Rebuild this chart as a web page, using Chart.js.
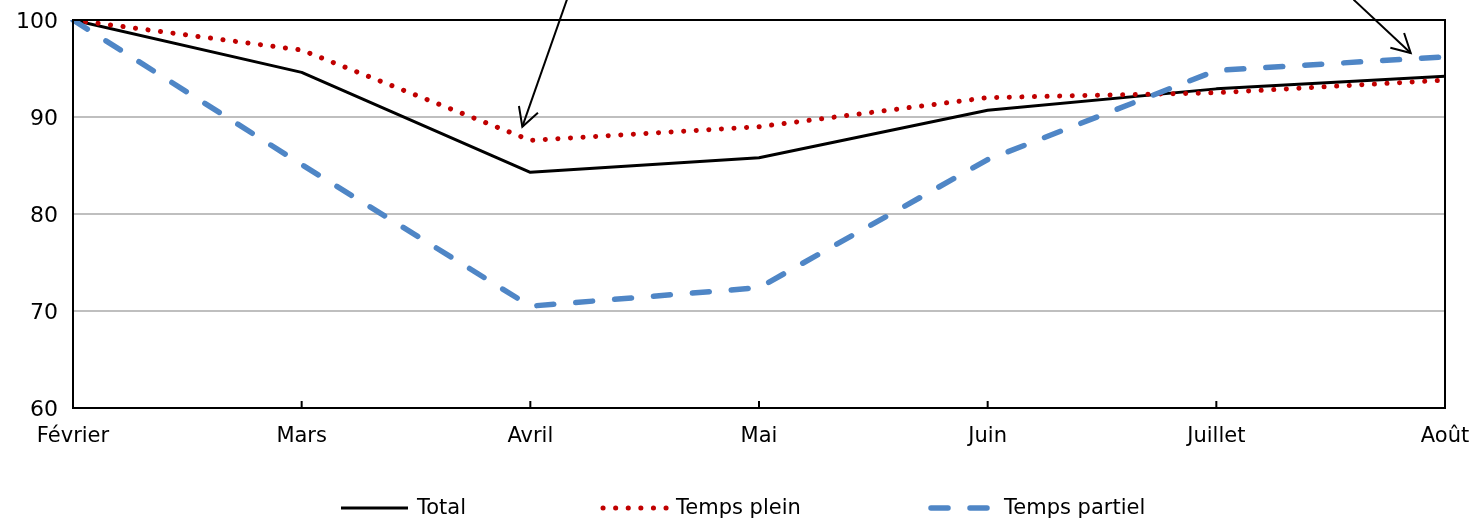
<!DOCTYPE html>
<html>
<head>
<meta charset="utf-8">
<script src="https://cdn.jsdelivr.net/npm/chart.js@4.4.1/dist/chart.umd.min.js"></script>
<style>
  html,body{margin:0;padding:0;background:#fff;}
  #wrap{width:1473px;height:519px;position:relative;}
</style>
</head>
<body>
<div id="wrap"><canvas id="c" width="1473" height="519"></canvas></div>
<script>
// values (index, février = 100)
const months = ['Février','Mars','Avril','Mai','Juin','Juillet','Août'];
const total = [100, 94.6, 84.3, 85.8, 90.7, 92.9, 94.2];
const tempsPlein = [100, 96.9, 87.6, 89.0, 92.0, 92.5, 93.8];
const tempsPartiel = [100, 85.1, 70.5, 72.4, 85.6, 94.8, 96.2];
const yTicks = [60, 70, 80, 90, 100];

// annotation arrows, tip / tail in data units (x = category index)
const arrows = [
  {tip:[1.965, 89.0], tail:[2.16, 102.1]},
  {tip:[5.85, 96.6], tail:[5.6, 102.1]}
];

const FONT = "'DejaVu Sans', Verdana, sans-serif";
const COL = {total:'#000000', plein:'#c00000', partiel:'#4f86c6', grid:'#bfbfbf', ink:'#000000'};

const series = [
  {label:'Total', data:total, color:COL.total, width:3, dash:[], cap:'butt'},
  {label:'Temps plein', data:tempsPlein, color:COL.plein, width:5, dash:[0.1,12.5], cap:'round'},
  {label:'Temps partiel', data:tempsPartiel, color:COL.partiel, width:5.5, dash:[17,22], cap:'round'}
];

Chart.defaults.font.family = FONT;
Chart.defaults.font.size = 21;
Chart.defaults.color = COL.ink;

// frame, inward ticks, arrows and legend
const extras = {
  id:'extras',
  afterDatasetsDraw(chart){
    const {ctx, chartArea:a, scales:{x, y}} = chart;
    ctx.save();
    ctx.strokeStyle = '#000'; ctx.lineWidth = 2;
    ctx.strokeRect(a.left, a.top, a.right - a.left, a.bottom - a.top);
    months.forEach((_, i) => {
      const px = x.getPixelForValue(i);
      ctx.beginPath(); ctx.moveTo(px, a.bottom); ctx.lineTo(px, a.bottom - 7); ctx.stroke();
    });
    // arrows
    ctx.lineWidth = 2;
    arrows.forEach(ar => {
      const tx = x.getPixelForValue(ar.tip[0]), ty = y.getPixelForValue(ar.tip[1]);
      const sx = x.getPixelForValue(ar.tail[0]), sy = y.getPixelForValue(ar.tail[1]);
      ctx.beginPath(); ctx.moveTo(sx, sy); ctx.lineTo(tx, ty); ctx.stroke();
      const ang = Math.atan2(ty - sy, tx - sx), L = 21, s = 0.5;
      ctx.beginPath();
      ctx.moveTo(tx - L*Math.cos(ang - s), ty - L*Math.sin(ang - s));
      ctx.lineTo(tx, ty);
      ctx.lineTo(tx - L*Math.cos(ang + s), ty - L*Math.sin(ang + s));
      ctx.stroke();
    });
    ctx.restore();
  },
  afterDraw(chart){
    const ctx = chart.ctx;
    const ly = 508, starts = [341, 600, 928], sw = 67;
    ctx.save();
    ctx.font = '21px ' + FONT; ctx.textBaseline = 'middle'; ctx.fillStyle = COL.ink;
    series.forEach((s, i) => {
      ctx.beginPath();
      ctx.strokeStyle = s.color; ctx.lineWidth = s.width; ctx.lineCap = s.cap;
      ctx.setLineDash(s.dash);
      ctx.moveTo(starts[i] + (s.cap === 'round' ? 3 : 0), ly);
      ctx.lineTo(starts[i] + sw, ly);
      ctx.stroke();
      ctx.setLineDash([]);
      ctx.fillText(s.label, starts[i] + sw + 9, ly + 1);
    });
    ctx.restore();
  }
};

new Chart(document.getElementById('c'), {
  type:'line',
  data:{
    labels:months,
    datasets:series.map((s, i) => ({
      label:s.label, data:s.data, borderColor:s.color, borderWidth:s.width,
      borderDash:s.dash, borderCapStyle:s.cap, borderJoinStyle:'round',
      pointRadius:0, tension:0, fill:false, order:3 - i
    }))
  },
  options:{
    responsive:false, animation:false, devicePixelRatio:1,
    layout:{padding:{top:20, right:28, left:0, bottom:0}},
    plugins:{legend:{display:false}, tooltip:{enabled:false}},
    scales:{
      x:{
        offset:false,
        grid:{display:false, drawTicks:false},
        border:{display:false},
        ticks:{padding:16, maxRotation:0, autoSkip:false},
        afterFit(s){ s.height = 111; s.paddingLeft = 0; s.paddingRight = 0; }
      },
      y:{
        min:60, max:100,
        afterBuildTicks(s){ s.ticks = yTicks.map(v => ({value:v})); },
        grid:{color:COL.grid, lineWidth:2, drawTicks:false},
        border:{display:false},
        ticks:{padding:15, labelOffset:2, font:{size:22}},
        afterFit(s){ s.width = 73; s.paddingTop = 0; s.paddingBottom = 0; }
      }
    }
  },
  plugins:[extras]
});
</script>
</body>
</html>
